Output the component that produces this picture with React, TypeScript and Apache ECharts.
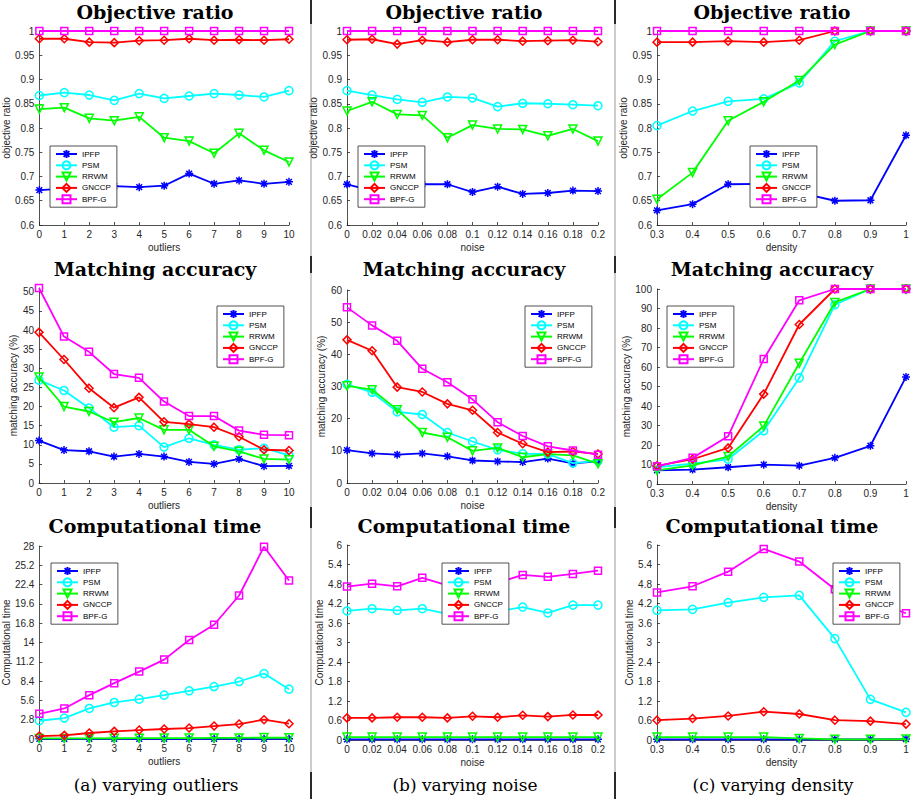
import React, { useEffect, useRef } from "react";
import * as echarts from "echarts";

const METHODS = ["IPFP", "PSM", "RRWM", "GNCCP", "BPF-G"];
const COLORS: Record<string, string> = {
  IPFP: "#0000ff",
  PSM: "#00ffff",
  RRWM: "#00ff00",
  GNCCP: "#ff0000",
  "BPF-G": "#ff00ff",
};
const ASTERISK =
  "path://M0,-1L0,1M-1,0L1,0M-0.72,-0.72L0.72,0.72M-0.72,0.72L0.72,-0.72";
const SYMBOLS: Record<string, string> = {
  IPFP: ASTERISK,
  PSM: "circle",
  RRWM: "triangle",
  GNCCP: "diamond",
  "BPF-G": "rect",
};

// x values
const OUTLIERS = [0, 1, 2, 3, 4, 5, 6, 7, 8, 9, 10];
const NOISE = [0, 0.02, 0.04, 0.06, 0.08, 0.1, 0.12, 0.14, 0.16, 0.18, 0.2];
const DENSITY = [0.3, 0.4, 0.5, 0.6, 0.7, 0.8, 0.9, 1];

// Objective ratio
const OBJ_OUT_IPFP = [0.672, 0.675, 0.677, 0.68, 0.678, 0.681, 0.706, 0.685, 0.692, 0.685, 0.689];
const OBJ_OUT_PSM = [0.867, 0.873, 0.868, 0.857, 0.871, 0.861, 0.866, 0.871, 0.868, 0.864, 0.877];
const OBJ_OUT_RRWM = [0.839, 0.842, 0.82, 0.815, 0.823, 0.78, 0.773, 0.748, 0.789, 0.754, 0.73];
const OBJ_OUT_GNCCP = [0.984, 0.984, 0.977, 0.976, 0.98, 0.981, 0.984, 0.981, 0.982, 0.981, 0.983];
const OBJ_OUT_BPFG = [1, 1, 1, 1, 1, 1, 1, 1, 1, 1, 1];

const OBJ_NOI_IPFP = [0.684, 0.671, 0.676, 0.684, 0.684, 0.668, 0.679, 0.664, 0.666, 0.671, 0.67];
const OBJ_NOI_PSM = [0.877, 0.868, 0.859, 0.853, 0.864, 0.862, 0.844, 0.851, 0.85, 0.848, 0.846];
const OBJ_NOI_RRWM = [0.835, 0.854, 0.828, 0.826, 0.78, 0.806, 0.798, 0.797, 0.784, 0.798, 0.773];
const OBJ_NOI_GNCCP = [0.982, 0.983, 0.973, 0.981, 0.977, 0.982, 0.982, 0.979, 0.98, 0.981, 0.978];
const OBJ_NOI_BPFG = [1, 1, 1, 1, 1, 1, 1, 1, 1, 1, 1];

const OBJ_DEN_IPFP = [0.63, 0.643, 0.684, 0.685, 0.667, 0.65, 0.651, 0.785];
const OBJ_DEN_PSM = [0.805, 0.835, 0.855, 0.86, 0.893, 0.979, 1, 1];
const OBJ_DEN_RRWM = [0.653, 0.708, 0.815, 0.854, 0.898, 0.972, 1, 1];
const OBJ_DEN_GNCCP = [0.977, 0.977, 0.979, 0.977, 0.981, 1, 1, 1];
const OBJ_DEN_BPFG = [1, 1, 1, 1, 1, 1, 1, 1];

// Matching accuracy (%)
const ACC_OUT_IPFP = [11.1, 8.6, 8.3, 6.9, 7.6, 6.9, 5.5, 5.0, 6.3, 4.4, 4.5];
const ACC_OUT_PSM = [26.9, 24.2, 19.6, 14.6, 15.0, 9.4, 11.7, 10.0, 8.7, 9.1, 7.2];
const ACC_OUT_RRWM = [27.7, 20.0, 18.7, 15.9, 17.0, 13.9, 13.9, 9.6, 8.3, 6.3, 6.1];
const ACC_OUT_GNCCP = [39.4, 32.3, 24.8, 19.7, 22.4, 16.0, 15.4, 14.6, 12.1, 8.7, 8.5];
const ACC_OUT_BPFG = [51, 38.3, 34.3, 28.5, 27.5, 21.3, 17.5, 17.5, 13.7, 12.6, 12.5];

const ACC_NOI_IPFP = [10.2, 9.2, 8.8, 9.2, 8.3, 7.0, 6.7, 6.5, 7.6, 6.1, 6.7];
const ACC_NOI_PSM = [30.7, 28.2, 22.1, 21.3, 15.7, 12.9, 10.3, 9.1, 9.0, 6.2, 6.9];
const ACC_NOI_RRWM = [30.2, 29.0, 22.8, 15.7, 14.2, 10.0, 10.9, 8.0, 9.0, 8.6, 6.0];
const ACC_NOI_GNCCP = [44.5, 41.1, 29.8, 28.3, 24.6, 22.6, 15.7, 12.2, 9.6, 9.8, 9.0];
const ACC_NOI_BPFG = [54.6, 49.0, 44.2, 35.5, 31.3, 26.0, 18.9, 14.6, 11.4, 10.1, 8.8];

const ACC_DEN_IPFP = [7.0, 7.4, 8.6, 9.9, 9.4, 13.4, 19.6, 54.9];
const ACC_DEN_PSM = [8.6, 10.5, 12.7, 27.3, 54.4, 91.9, 100, 100];
const ACC_DEN_RRWM = [7.0, 9.6, 14.1, 29.7, 61.9, 93.1, 100, 100];
const ACC_DEN_GNCCP = [9.3, 12.7, 18.5, 46.1, 81.8, 100, 100, 100];
const ACC_DEN_BPFG = [9.1, 13.4, 24.5, 64.1, 94.2, 100, 100, 100];

// Computational time
const TIME_OUT_IPFP = [0.02, 0.02, 0.02, 0.02, 0.02, 0.02, 0.02, 0.02, 0.03, 0.03, 0.03];
const TIME_OUT_PSM = [2.65, 3.04, 4.43, 5.3, 5.78, 6.36, 6.99, 7.61, 8.34, 9.49, 7.23];
const TIME_OUT_RRWM = [0.08, 0.09, 0.1, 0.11, 0.12, 0.13, 0.14, 0.15, 0.16, 0.2, 0.18];
const TIME_OUT_GNCCP = [0.43, 0.53, 0.87, 1.11, 1.3, 1.45, 1.59, 1.88, 2.17, 2.8, 2.22];
const TIME_OUT_BPFG = [3.66, 4.43, 6.36, 8.1, 9.78, 11.52, 14.36, 16.58, 20.82, 27.9, 22.99];

const TIME_NOI_IPFP = [0.02, 0.02, 0.02, 0.02, 0.02, 0.02, 0.02, 0.02, 0.02, 0.02, 0.02];
const TIME_NOI_PSM = [3.97, 4.04, 3.99, 4.04, 3.88, 3.92, 3.96, 4.09, 3.91, 4.15, 4.15];
const TIME_NOI_RRWM = [0.09, 0.09, 0.09, 0.09, 0.09, 0.09, 0.09, 0.09, 0.09, 0.09, 0.09];
const TIME_NOI_GNCCP = [0.68, 0.68, 0.7, 0.7, 0.68, 0.73, 0.7, 0.76, 0.72, 0.77, 0.77];
const TIME_NOI_BPFG = [4.72, 4.81, 4.73, 4.99, 4.76, 4.86, 4.84, 5.08, 5.02, 5.11, 5.21];

const TIME_DEN_IPFP = [0.02, 0.02, 0.02, 0.02, 0.02, 0.02, 0.02, 0.03];
const TIME_DEN_PSM = [3.99, 4.02, 4.23, 4.39, 4.45, 3.12, 1.25, 0.85];
const TIME_DEN_RRWM = [0.09, 0.09, 0.09, 0.09, 0.05, 0.02, 0.02, 0.03];
const TIME_DEN_GNCCP = [0.61, 0.66, 0.74, 0.87, 0.8, 0.61, 0.58, 0.49];
const TIME_DEN_BPFG = [4.54, 4.73, 5.18, 5.88, 5.49, 4.64, 4.3, 3.9];

const TITLES = ["Objective ratio", "Matching accuracy", "Computational time"];
const Y_NAMES = ["objective ratio", "matching accuracy (%)", "Computational time"];
const X_NAMES = ["outliers", "noise", "density"];
const CAPTIONS = ["(a) varying outliers", "(b) varying noise", "(c) varying density"];

// layout (pixels)
const COL_LEFT = [39, 347, 657];
const COL_RIGHT = [289, 598, 906];
const TITLE_X = [155, 464, 772];
const TITLE_Y = [12, 269, 526];

const SANS = "Liberation Sans, Arial, Helvetica, sans-serif";
const SERIF = "DejaVu Serif, serif";
const AXIS_COLOR = "#262626";

type Panel = {
  row: number;
  col: number;
  x: number[];
  vals: number[][];
  xMin: number;
  xMax: number;
  xInt: number;
  yMin: number;
  yMax: number;
  yInt: number;
  top: number;
  bottom: number;
  yGap: number;
  legend: [number, number];
};

const PANELS: Panel[] = [
  { row: 0, col: 0, x: OUTLIERS, vals: [OBJ_OUT_IPFP, OBJ_OUT_PSM, OBJ_OUT_RRWM, OBJ_OUT_GNCCP, OBJ_OUT_BPFG], xMin: 0, xMax: 10, xInt: 1, yMin: 0.6, yMax: 1, yInt: 0.05, top: 31, bottom: 225, yGap: 21, legend: [50, 146] },
  { row: 0, col: 1, x: NOISE, vals: [OBJ_NOI_IPFP, OBJ_NOI_PSM, OBJ_NOI_RRWM, OBJ_NOI_GNCCP, OBJ_NOI_BPFG], xMin: 0, xMax: 0.2, xInt: 0.02, yMin: 0.6, yMax: 1, yInt: 0.05, top: 31, bottom: 225, yGap: 23, legend: [358, 146] },
  { row: 0, col: 2, x: DENSITY, vals: [OBJ_DEN_IPFP, OBJ_DEN_PSM, OBJ_DEN_RRWM, OBJ_DEN_GNCCP, OBJ_DEN_BPFG], xMin: 0.3, xMax: 1, xInt: 0.1, yMin: 0.6, yMax: 1, yInt: 0.05, top: 31, bottom: 225, yGap: 26, legend: [750, 146] },
  { row: 1, col: 0, x: OUTLIERS, vals: [ACC_OUT_IPFP, ACC_OUT_PSM, ACC_OUT_RRWM, ACC_OUT_GNCCP, ACC_OUT_BPFG], xMin: 0, xMax: 10, xInt: 1, yMin: 0, yMax: 51, yInt: 5, top: 288, bottom: 483, yGap: 18, legend: [217, 306] },
  { row: 1, col: 1, x: NOISE, vals: [ACC_NOI_IPFP, ACC_NOI_PSM, ACC_NOI_RRWM, ACC_NOI_GNCCP, ACC_NOI_BPFG], xMin: 0, xMax: 0.2, xInt: 0.02, yMin: 0, yMax: 60, yInt: 10, top: 290, bottom: 483, yGap: 14, legend: [525, 306] },
  { row: 1, col: 2, x: DENSITY, vals: [ACC_DEN_IPFP, ACC_DEN_PSM, ACC_DEN_RRWM, ACC_DEN_GNCCP, ACC_DEN_BPFG], xMin: 0.3, xMax: 1, xInt: 0.1, yMin: 0, yMax: 100, yInt: 10, top: 289, bottom: 484, yGap: 21, legend: [667, 306] },
  { row: 2, col: 0, x: OUTLIERS, vals: [TIME_OUT_IPFP, TIME_OUT_PSM, TIME_OUT_RRWM, TIME_OUT_GNCCP, TIME_OUT_BPFG], xMin: 0, xMax: 10, xInt: 1, yMin: 0, yMax: 28, yInt: 2.8, top: 546, bottom: 739, yGap: 23, legend: [51, 563] },
  { row: 2, col: 1, x: NOISE, vals: [TIME_NOI_IPFP, TIME_NOI_PSM, TIME_NOI_RRWM, TIME_NOI_GNCCP, TIME_NOI_BPFG], xMin: 0, xMax: 0.2, xInt: 0.02, yMin: 0, yMax: 6, yInt: 0.6, top: 545, bottom: 740, yGap: 19, legend: [442, 563] },
  { row: 2, col: 2, x: DENSITY, vals: [TIME_DEN_IPFP, TIME_DEN_PSM, TIME_DEN_RRWM, TIME_DEN_GNCCP, TIME_DEN_BPFG], xMin: 0.3, xMax: 1, xInt: 0.1, yMin: 0, yMax: 6, yInt: 0.6, top: 545, bottom: 740, yGap: 21, legend: [833, 563] },
];

const fmt = (v: number) => String(Math.round(v * 1000) / 1000);

function buildOption(): any {
  const grid: any[] = [];
  const xAxis: any[] = [];
  const yAxis: any[] = [];
  const series: any[] = [];
  const legend: any[] = [];
  const graphic: any[] = [];

  PANELS.forEach((p, i) => {
    grid.push({
      left: COL_LEFT[p.col],
      width: COL_RIGHT[p.col] - COL_LEFT[p.col],
      top: p.top,
      height: p.bottom - p.top,
      containLabel: false,
    });
    const axisCommon = {
      axisLine: { show: true, lineStyle: { color: AXIS_COLOR, width: 0.8 } },
      axisTick: { show: true, inside: true, length: 3, lineStyle: { color: AXIS_COLOR, width: 0.8 } },
      splitLine: { show: false },
      nameTextStyle: { fontSize: 10, color: AXIS_COLOR, fontFamily: SANS },
    };
    xAxis.push({
      ...axisCommon,
      type: "value",
      gridIndex: i,
      min: p.xMin,
      max: p.xMax,
      interval: p.xInt,
      name: X_NAMES[p.col],
      nameLocation: "middle",
      nameGap: 17,
      axisLabel: { fontSize: 10, color: AXIS_COLOR, fontFamily: SANS, margin: 4, formatter: fmt },
    });
    yAxis.push({
      ...axisCommon,
      type: "value",
      gridIndex: i,
      min: p.yMin,
      max: p.yMax,
      interval: p.yInt,
      name: Y_NAMES[p.row],
      nameLocation: "middle",
      nameGap: p.yGap,
      axisLabel: {
        fontSize: 10,
        color: AXIS_COLOR,
        fontFamily: SANS,
        margin: 5,
        formatter: fmt,
        showMaxLabel: p.yMax % p.yInt < 1e-9 || Math.abs((p.yMax / p.yInt) - Math.round(p.yMax / p.yInt)) < 1e-6,
      },
    });
    METHODS.forEach((m, k) => {
      const c = COLORS[m];
      series.push({
        type: "line",
        name: m,
        xAxisIndex: i,
        yAxisIndex: i,
        data: p.x.map((x, j) => [x, p.vals[k][j]]),
        symbol: SYMBOLS[m],
        symbolSize: m === "BPF-G" ? 7 : 8,
        symbolRotate: m === "RRWM" ? 180 : 0,
        showSymbol: true,
        showAllSymbol: true,
        clip: false,
        z: 2 + k * 0.01,
        lineStyle: { color: c, width: 1.8 },
        itemStyle: { color: "rgba(0,0,0,0)", borderColor: c, borderWidth: 1.5 },
        emphasis: { disabled: true },
      });
    });
    legend.push({
      data: METHODS,
      orient: "vertical",
      left: p.legend[0],
      top: p.legend[1],
      itemWidth: 21,
      itemHeight: 10,
      itemGap: 1.3,
      padding: [3, 6, 3, 5],
      borderColor: AXIS_COLOR,
      borderWidth: 0.8,
      borderRadius: 0,
      backgroundColor: "#ffffff",
      selectedMode: false,
      textStyle: { fontSize: 8, fontFamily: SANS, color: "#000" },
    });
  });

  // separators
  [311, 615].forEach((x) => {
    graphic.push({
      type: "line",
      shape: { x1: x, y1: 0, x2: x, y2: 799 },
      style: { stroke: "#9a9a9a", lineWidth: 1 },
      silent: true,
    });
    [[0, 24], [256, 273], [507, 528], [772, 799]].forEach(([a, b]) => {
      graphic.push({
        type: "line",
        shape: { x1: x, y1: a, x2: x, y2: b },
        style: { stroke: "#2a2a2a", lineWidth: 2 },
        silent: true,
      });
    });
  });

  // titles
  for (let r = 0; r < 3; r++) {
    for (let c = 0; c < 3; c++) {
      graphic.push({
        type: "text",
        x: TITLE_X[c],
        y: TITLE_Y[r],
        silent: true,
        style: {
          text: TITLES[r],
          fontFamily: SERIF,
          fontWeight: "bold",
          fontSize: 19,
          fill: "#000",
          align: "center",
          verticalAlign: "middle",
          textAlign: "center",
          textVerticalAlign: "middle",
        },
      });
    }
  }
  // captions
  for (let c = 0; c < 3; c++) {
    graphic.push({
      type: "text",
      x: TITLE_X[c] + 1,
      y: 785,
      silent: true,
      style: {
        text: CAPTIONS[c],
        fontFamily: SERIF,
        fontSize: 17,
        fill: "#000",
        align: "center",
        verticalAlign: "middle",
        textAlign: "center",
        textVerticalAlign: "middle",
      },
    });
  }

  return {
    animation: false,
    backgroundColor: "#ffffff",
    grid,
    xAxis,
    yAxis,
    legend,
    series,
    graphic,
  };
}

export default function App() {
  const ref = useRef<HTMLDivElement>(null);
  useEffect(() => {
    document.body.style.margin = "0";
    const chart = echarts.init(ref.current!, null, { renderer: "svg" });
    chart.setOption(buildOption());
    return () => chart.dispose();
  }, []);
  return <div ref={ref} style={{ width: 923, height: 799 }} />;
}
